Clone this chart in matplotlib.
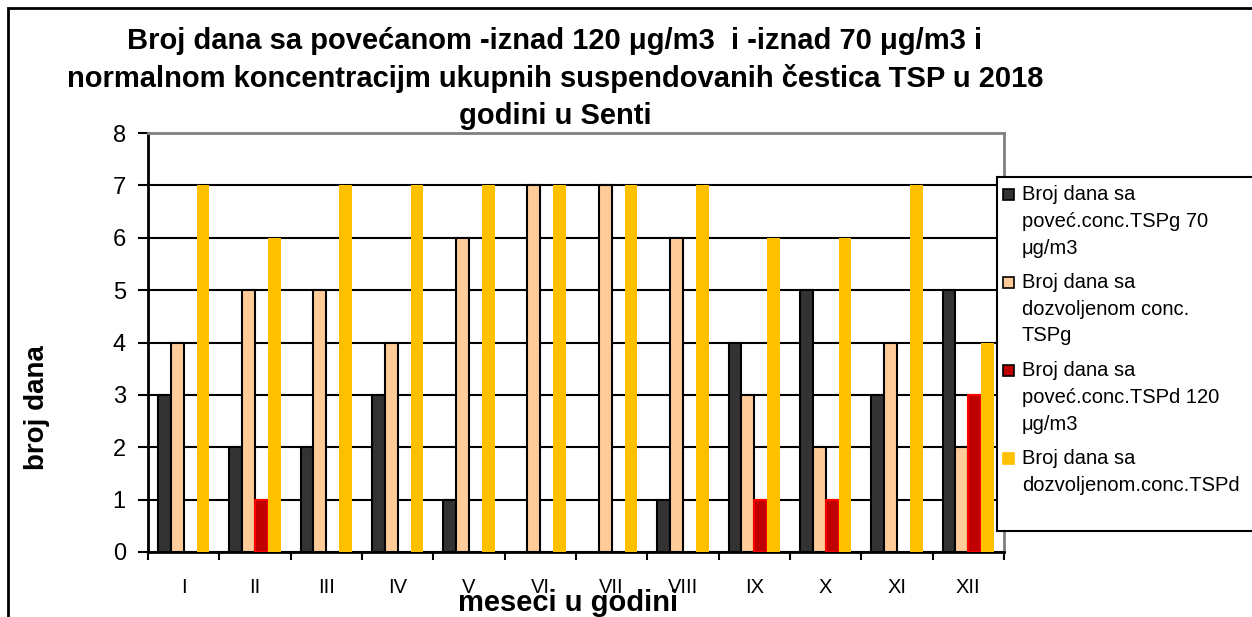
import numpy as np
import matplotlib.pyplot as plt
from matplotlib.patches import Rectangle

plt.rcParams['font.family'] = ['Liberation Sans', 'DejaVu Sans']

# data
months = ['I', 'II', 'III', 'IV', 'V', 'VI', 'VII', 'VIII', 'IX', 'X', 'XI', 'XII']
over70 = [3, 2, 2, 3, 1, 0, 0, 1, 4, 5, 3, 5]
allowed_g = [4, 5, 5, 4, 6, 7, 7, 6, 3, 2, 4, 2]
over120 = [0, 1, 0, 0, 0, 0, 0, 0, 1, 1, 0, 3]
allowed_d = [7, 6, 7, 7, 7, 7, 7, 7, 6, 6, 7, 4]

series = [over70, allowed_g, over120, allowed_d]
labels = ['Broj dana sa\npoveć.conc.TSPg 70\nμg/m3',
          'Broj dana sa\ndozvoljenom conc.\nTSPg',
          'Broj dana sa\npoveć.conc.TSPd 120\nμg/m3',
          'Broj dana sa\ndozvoljenom.conc.TSPd']
colors = ['#333333', '#FFCC99', '#C00000', '#FFC000']
edges = ['black', 'black', '#FF0000', 'none']

W, H = 1252, 617
fig = plt.figure(figsize=(W / 100, H / 100), dpi=100)
ax = fig.add_axes([148 / W, 1 - 552 / H, (1004 - 148) / W, (552 - 133) / H])

x = np.arange(len(months))
bw = 0.18
for i, vals in enumerate(series):
    bars = ax.bar(x + (i - 1.5) * bw, vals, width=bw, color=colors[i],
                  edgecolor=edges[i], linewidth=1.5, zorder=3)
    for r in bars:
        if r.get_height() == 0:
            r.set_visible(False)

ax.set_xlim(-0.5, len(months) - 0.5)
ax.set_ylim(0, 8)
ax.set_yticks(range(0, 9))
ax.tick_params(axis='y', labelsize=17, length=7, width=1.5, pad=9)
ax.set_xticks(x)
ax.set_xticklabels(months, fontsize=14.5)
ax.set_xticks(np.arange(-0.5, len(months)), minor=True)
ax.tick_params(axis='x', which='major', length=0, pad=19)
ax.tick_params(axis='x', which='minor', length=6, width=1.5)

ax.yaxis.grid(True, color='black', linewidth=1.5, zorder=1)
ax.get_ygridlines()[-1].set_visible(False)
ax.set_axisbelow(True)
for s in ['left', 'bottom']:
    ax.spines[s].set_linewidth(2)
    ax.spines[s].set_color('black')
for s in ['top', 'right']:
    ax.spines[s].set_linewidth(2)
    ax.spines[s].set_color('#808080')

# titles
fig.text(555 / W, 1 - 27 / H,
         'Broj dana sa povećanom -iznad 120 μg/m3  i -iznad 70 μg/m3 i\n'
         'normalnom koncentracijm ukupnih suspendovanih čestica TSP u 2018\n'
         'godini u Senti',
         ha='center', va='top', fontsize=21, fontweight='bold', linespacing=1.41)
fig.text(568 / W, 1 - 603 / H, 'meseci u godini', ha='center', va='center',
         fontsize=21, fontweight='bold')
fig.text(37 / W, 1 - 408 / H, 'broj dana', ha='center', va='center',
         rotation=90, fontsize=20, fontweight='bold')

# outer chart border (cropped at right and bottom)
fig.add_artist(Rectangle((8 / W, -0.1), 1.2, 1 - 8 / H + 0.1, transform=fig.transFigure,
                         fill=False, edgecolor='black', linewidth=2))

# legend box
fig.add_artist(Rectangle((997 / W, 1 - 531 / H), 0.5, (531 - 177) / H,
                         transform=fig.transFigure, facecolor='white',
                         edgecolor='black', linewidth=1.5, zorder=5))
for i, lab in enumerate(labels):
    y0 = 195 + i * 88
    fig.add_artist(Rectangle((1003 / W, 1 - (y0 + 5) / H), 11 / W, 11 / H,
                             transform=fig.transFigure, facecolor=colors[i],
                             edgecolor='black' if i != 3 else colors[i],
                             linewidth=1.2, zorder=6))
    for j, line in enumerate(lab.split('\n')):
        fig.text(1022 / W, 1 - (y0 + j * 26.5) / H, line, ha='left', va='center',
                 fontsize=14.5, zorder=7)

fig.savefig('out.png', dpi=100)
